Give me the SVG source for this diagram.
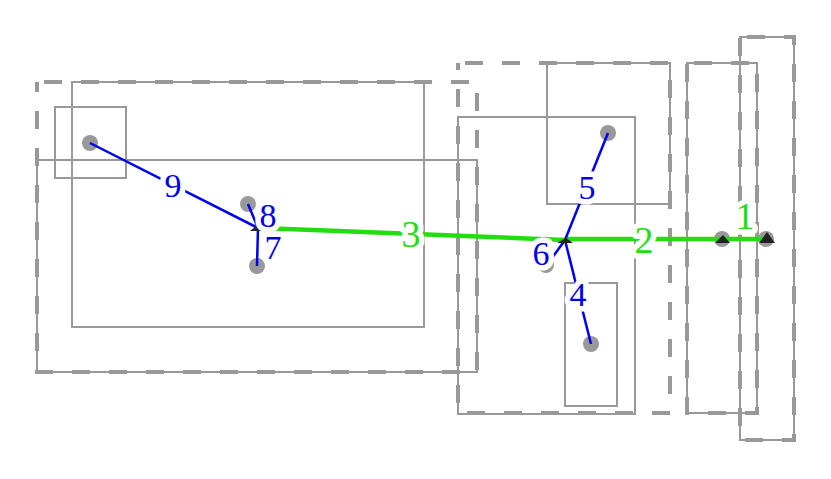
<svg xmlns="http://www.w3.org/2000/svg" width="831" height="479" viewBox="0 0 831 479">
<style>
.s{fill:none;stroke:#999;stroke-width:2}
.d{fill:none;stroke:#999;stroke-width:4;stroke-dasharray:18 19;stroke-dashoffset:30}
.n{fill:#999}
.b{stroke:#0000ee;stroke-width:2.5;fill:none}
.g{stroke:#22dd11;stroke-width:4.5;fill:none}
.ah{fill:#222}
.lb{font-family:"Liberation Serif","DejaVu Serif",serif;font-size:34px;text-anchor:middle;dominant-baseline:central;paint-order:stroke;stroke:#fff;stroke-width:11;stroke-linejoin:round}
.lbb{fill:#0000ee}
.lbg{fill:#22dd11;font-size:38px}
</style>
<rect width="831" height="479" fill="#fff"/>
<g id="containers">
<rect class="d" x="37" y="82" width="440" height="290"/>
<rect class="s" x="72" y="82" width="352" height="245"/>
<rect class="s" x="37" y="160" width="440" height="212"/>
<rect class="s" x="55" y="107" width="71" height="71"/>
<rect class="d" x="458" y="63" width="212" height="350"/>
<rect class="s" x="458" y="117" width="177" height="297"/>
<rect class="s" x="547" y="63" width="123" height="141"/>
<rect class="s" x="565" y="283" width="52" height="123"/>
<rect class="s" x="687" y="63" width="70" height="350"/>
<rect class="d" x="687" y="63" width="70" height="350"/>
<rect class="s" x="740" y="37" width="54" height="403"/>
<rect class="d" x="740" y="37" width="54" height="403"/>
</g>
<g id="n1"><circle class="n" cx="90" cy="143" r="8"/></g>
<g id="n2"><circle class="n" cx="248" cy="204" r="8"/></g>
<g id="n3"><circle class="n" cx="257" cy="266" r="8"/></g>
<g id="n4"><circle class="n" cx="608" cy="133" r="8"/></g>
<g id="n5"><circle class="n" cx="546" cy="265" r="8"/></g>
<g id="n6"><circle class="n" cx="591" cy="344" r="8"/></g>
<g id="n7"><circle class="n" cx="722" cy="239" r="8"/></g>
<g id="n8"><circle class="n" cx="766" cy="239" r="8"/></g>
<g id="connectors">
<line class="g" x1="565" y1="240" x2="262" y2="228"/>
<line class="g" x1="565" y1="239" x2="722" y2="239"/>
<line class="g" x1="722" y1="239" x2="766" y2="239"/>
<line class="b" x1="90" y1="143" x2="258" y2="228"/>
<line class="b" x1="248" y1="204" x2="258" y2="228"/>
<line class="b" x1="257" y1="266" x2="258" y2="228"/>
<line class="b" x1="608" y1="133" x2="565" y2="240"/>
<line class="b" x1="552" y1="258" x2="565" y2="240"/>
<line class="b" x1="591" y1="344" x2="565" y2="240"/>
<polygon class="ah" points="250,231 266,231 259,224"/>
<polygon class="ah" points="557,243 573,243 566,238"/>
<polygon class="ah" points="715,243 730,243 723,235"/>
<polygon class="ah" points="759,243 775,243 767,232"/>
<text class="lb lbb" x="173" y="185">9</text>
<text class="lb lbb" x="268" y="215">8</text>
<text class="lb lbb" x="273" y="247">7</text>
<text class="lb lbg" x="411" y="234">3</text>
<text class="lb lbb" x="587" y="187">5</text>
<text class="lb lbb" x="541" y="253">6</text>
<text class="lb lbb" x="578" y="294">4</text>
<text class="lb lbg" x="644" y="240">2</text>
<text class="lb lbg" x="745" y="216">1</text>
</g>
</svg>
